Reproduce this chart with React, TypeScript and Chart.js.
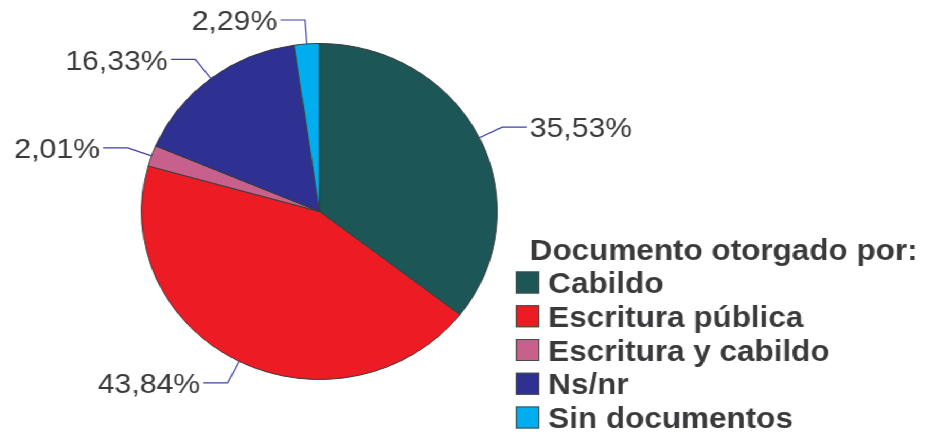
import React, { useEffect, useRef } from "react";
import { Chart, registerables } from "chart.js";

Chart.register(...registerables);

const categories = ["Cabildo", "Escritura pública", "Escritura y cabildo", "Ns/nr", "Sin documentos"];
const shares = [35.53, 43.84, 2.01, 16.33, 2.29];
const valueLabels = ["35,53%", "43,84%", "2,01%", "16,33%", "2,29%"];
const sliceColors = ["#1c5656", "#ed1c24", "#c8608c", "#2e3192", "#00aeef"];
const legendTitle = "Documento otorgado por:";

const FULL_W = 927;
const H = 434;
const SX = 178 / 168;
const W = Math.round(FULL_W / SX);

const TEXT_COLOR = "#3a3a3c";

const leaderPlugin = {
  id: "leaderLabels",
  afterDatasetsDraw(chart: any) {
    const ctx = chart.ctx;
    const meta = chart.getDatasetMeta(0);
    ctx.save();
    const fs = 28.5;
    ctx.font = `normal ${fs}px "Liberation Sans", Arial, sans-serif`;
    meta.data.forEach((arc: any, i: number) => {
      const { x, y, startAngle, endAngle, outerRadius } = arc.getProps(
        ["x", "y", "startAngle", "endAngle", "outerRadius"],
        true
      );
      const mid = (startAngle + endAngle) / 2;
      const ex = x + Math.cos(mid) * outerRadius;
      const ey = y + Math.sin(mid) * outerRadius;
      const bx = x + Math.cos(mid) * (outerRadius + 24);
      const by = y + Math.sin(mid) * (outerRadius + 24);
      const dir = Math.cos(mid) >= 0 ? 1 : -1;
      const hx = bx + dir * 23;
      ctx.strokeStyle = "#3c40a0";
      ctx.lineWidth = 1.2;
      ctx.beginPath();
      ctx.moveTo(ex, ey);
      ctx.lineTo(bx, by);
      ctx.lineTo(hx, by);
      ctx.stroke();
      ctx.fillStyle = TEXT_COLOR;
      ctx.textBaseline = "alphabetic";
      ctx.textAlign = dir > 0 ? "left" : "right";
      ctx.fillText(valueLabels[i], hx + dir * 3, by + fs * 0.358);
    });
    ctx.restore();
  },
};

const legendPlugin = {
  id: "customLegend",
  afterDraw(chart: any) {
    const ctx = chart.ctx;
    const labels = chart.data.labels as string[];
    const colors = chart.data.datasets[0].backgroundColor as string[];
    const fs = 29.7;
    const cap = fs * 0.358;
    ctx.save();
    ctx.font = `bold ${fs}px "Liberation Sans", Arial, sans-serif`;
    ctx.fillStyle = TEXT_COLOR;
    ctx.textAlign = "left";
    ctx.textBaseline = "alphabetic";
    ctx.fillText(legendTitle, 500, 249 + cap);
    labels.forEach((lab, i) => {
      const cy = 282.5 + i * 33.75;
      ctx.fillStyle = colors[i];
      ctx.fillRect(487, cy - 11, 22, 22);
      ctx.strokeStyle = "#4a4a4a";
      ctx.lineWidth = 1;
      ctx.strokeRect(487.5, cy - 10.5, 21, 21);
      ctx.fillStyle = TEXT_COLOR;
      ctx.fillText(lab, 517.5, cy + cap);
    });
    ctx.restore();
  },
};

export default function App() {
  const ref = useRef<HTMLCanvasElement | null>(null);
  useEffect(() => {
    if (!ref.current) return;
    const cx = 319.5 / SX;
    const cy = 211.5;
    const r = 168.5;
    const chart = new Chart(ref.current, {
      type: "pie",
      data: {
        labels: categories,
        datasets: [
          {
            data: shares,
            backgroundColor: sliceColors,
            borderColor: "#3a3a3a",
            borderWidth: 1,
          },
        ],
      },
      options: {
        animation: false,
        responsive: true,
        maintainAspectRatio: false,
        layout: {
          padding: {
            left: cx - r,
            right: W - (cx + r),
            top: cy - r,
            bottom: H - (cy + r),
          },
        },
        plugins: {
          legend: { display: false },
          tooltip: { enabled: false },
        },
      },
      plugins: [leaderPlugin, legendPlugin],
    });
    return () => chart.destroy();
  }, []);
  return (
    <div
      style={{
        position: "absolute",
        left: 0,
        top: 0,
        width: W,
        height: H,
        transform: `scaleX(${FULL_W / W})`,
        transformOrigin: "0 0",
        background: "#fff",
      }}
    >
      <canvas ref={ref} />
    </div>
  );
}
